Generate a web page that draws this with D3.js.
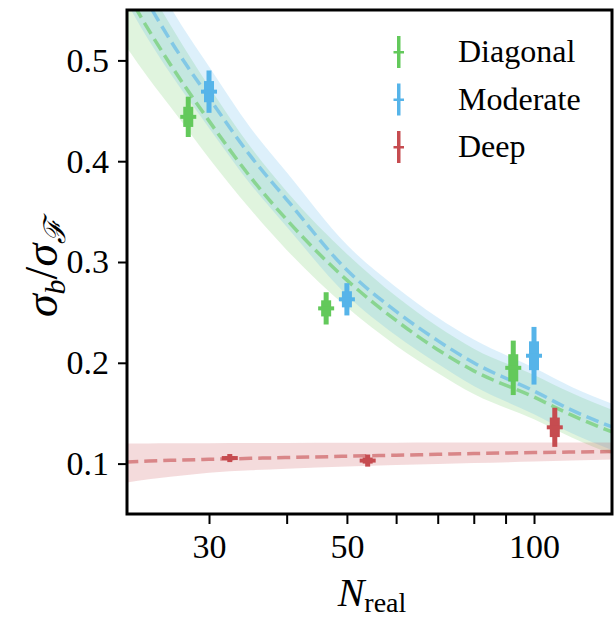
<!DOCTYPE html>
<html>
<head>
<meta charset="utf-8">
<script src="https://cdn.jsdelivr.net/npm/d3@7"></script>
<style>
  body { margin: 0; background: #fff; }
  text { font-family: "Liberation Serif", "DejaVu Serif", serif; }
</style>
</head>
<body>
<svg id="chart" width="615" height="618"></svg>
<script>
// --- data ---
var seriesNames = ['Diagonal', 'Moderate', 'Deep'];
var seriesColors = ['#63c95b', '#56b4e9', '#c64c50'];
var nReal = [30, 50, 100];
var dodge = [0.926, 1, 1.08];   // multiplicative shift on the log axis

var diagonalVals = [0.444, 0.254, 0.195];
var diagonalErr  = [0.0100, 0.0080, 0.0135];
var moderateVals = [0.469, 0.263, 0.207];
var moderateErr  = [0.0105, 0.0080, 0.0143];
var deepVals     = [0.1055, 0.1030, 0.1360];
var deepErr      = [0.0020, 0.0030, 0.0097];

// fitted curves and their bands
var fitN = [22, 24, 26, 30, 35, 40, 50, 60, 70, 80, 100, 115, 134];
var diagonalFit = [0.570, 0.530, 0.496, 0.440, 0.384, 0.342, 0.282, 0.242, 0.213, 0.192, 0.166, 0.148, 0.131];
var diagonalLo  = [0.515, 0.482, 0.454, 0.403, 0.352, 0.312, 0.255, 0.217, 0.190, 0.169, 0.144, 0.126, 0.109];
var diagonalHi  = [0.615, 0.572, 0.535, 0.474, 0.414, 0.370, 0.308, 0.266, 0.236, 0.214, 0.188, 0.170, 0.153];
var moderateFit = [0.600, 0.556, 0.520, 0.463, 0.405, 0.362, 0.292, 0.251, 0.222, 0.200, 0.172, 0.153, 0.136];
var moderateLo  = [0.560, 0.520, 0.487, 0.433, 0.377, 0.335, 0.267, 0.227, 0.199, 0.177, 0.149, 0.130, 0.113];
var moderateHi  = [0.640, 0.592, 0.553, 0.494, 0.433, 0.389, 0.317, 0.275, 0.245, 0.223, 0.195, 0.176, 0.159];
var deepFit     = [0.1015, 0.1025, 0.1032, 0.1042, 0.1052, 0.1060, 0.1073, 0.1083, 0.1092, 0.1100, 0.1110, 0.1115, 0.1120];
var deepLo      = [0.0810, 0.0845, 0.0870, 0.0910, 0.0935, 0.0950, 0.0970, 0.0985, 0.0995, 0.1005, 0.1020, 0.1030, 0.1040];
var deepHi      = [0.1200, 0.1200, 0.1201, 0.1202, 0.1204, 0.1205, 0.1207, 0.1208, 0.1209, 0.1210, 0.1210, 0.1210, 0.1210];

var yTicks = [0.1, 0.2, 0.3, 0.4, 0.5];
var xMajor = [30, 50, 100];
var xMinor = [40, 60, 70, 80, 90];

// --- layout ---
var svg = d3.select('#chart');
var m = { left: 127, right: 612, top: 10, bottom: 514 };

var x = d3.scaleLog().domain([22.14, 133.5]).range([m.left, m.right]);
var y = d3.scaleLinear().domain([0.05, 0.55]).range([m.bottom, m.top]);

var series = [
    { vals: diagonalVals, err: diagonalErr, fit: diagonalFit, lo: diagonalLo, hi: diagonalHi },
    { vals: moderateVals, err: moderateErr, fit: moderateFit, lo: moderateLo, hi: moderateHi },
    { vals: deepVals,     err: deepErr,     fit: deepFit,     lo: deepLo,     hi: deepHi }
];

svg.append('clipPath').attr('id', 'clip')
    .append('rect')
    .attr('x', m.left).attr('y', m.top)
    .attr('width', m.right - m.left).attr('height', m.bottom - m.top);

var plot = svg.append('g').attr('clip-path', 'url(#clip)');

var area = d3.area()
    .x(function(d) { return x(d.n); })
    .y0(function(d) { return y(d.lo); })
    .y1(function(d) { return y(d.hi); })
    .curve(d3.curveMonotoneX);

var line = d3.line()
    .x(function(d) { return x(d.n); })
    .y(function(d) { return y(d.v); })
    .curve(d3.curveMonotoneX);

// bands first, then dashed fits
series.forEach(function(s, i) {
    var pts = fitN.map(function(n, k) { return { n: n, lo: s.lo[k], hi: s.hi[k] }; });
    plot.append('path')
        .attr('d', area(pts))
        .style('fill', seriesColors[i])
        .style('fill-opacity', 0.2);
});
series.forEach(function(s, i) {
    var pts = fitN.map(function(n, k) { return { n: n, v: s.fit[k] }; });
    plot.append('path')
        .attr('d', line(pts))
        .style('fill', 'none')
        .style('stroke', seriesColors[i])
        .style('stroke-opacity', 0.6)
        .style('stroke-width', 3.5)
        .style('stroke-dasharray', '13,6');
});

// error bars: thin 2 sigma, thick 1 sigma, short horizontal mark at value
series.forEach(function(s, i) {
    var g = plot.append('g').style('fill', seriesColors[i]);
    nReal.forEach(function(n, k) {
        var cx = x(n * dodge[i]);
        var v = s.vals[k], e = s.err[k];
        g.append('rect')
            .attr('x', cx - 2.5).attr('width', 5)
            .attr('y', y(v + 2 * e)).attr('height', y(v - 2 * e) - y(v + 2 * e));
        g.append('rect')
            .attr('x', cx - 5).attr('width', 10)
            .attr('y', y(v + e)).attr('height', y(v - e) - y(v + e));
        g.append('rect')
            .attr('x', cx - 8).attr('width', 16)
            .attr('y', y(v) - 2).attr('height', 4);
    });
});

// frame
svg.append('rect')
    .attr('x', m.left).attr('y', m.top)
    .attr('width', m.right - m.left).attr('height', m.bottom - m.top)
    .style('fill', 'none')
    .style('stroke', '#000')
    .style('stroke-width', 3);

// axes
var yAxis = d3.axisLeft(y).tickValues(yTicks).tickSize(9).tickPadding(9)
    .tickFormat(d3.format('.1f'));
var gy = svg.append('g').attr('transform', 'translate(' + m.left + ',0)').call(yAxis);
gy.select('.domain').remove();
gy.selectAll('line').style('stroke-width', 2);
gy.selectAll('text').style('font-size', '34px').style('fill', '#000');

var xAxis = d3.axisBottom(x).tickValues(xMajor.concat(xMinor)).tickSize(10).tickPadding(10)
    .tickFormat(function(d) { return xMajor.indexOf(d) >= 0 ? d : ''; });
var gx = svg.append('g').attr('transform', 'translate(0,' + m.bottom + ')').call(xAxis);
gx.select('.domain').remove();
gx.selectAll('line').style('stroke-width', 2);
gx.selectAll('text').style('font-size', '34px').style('fill', '#000');

// axis titles
var xt = svg.append('text')
    .attr('x', 372).attr('y', 606)
    .attr('text-anchor', 'middle')
    .style('font-size', '40px');
xt.append('tspan').style('font-style', 'italic').text('N');
xt.append('tspan').attr('dy', 6).style('font-size', '28px').text('real');

var yt = svg.append('text')
    .attr('transform', 'translate(57,268) rotate(-90)')
    .attr('text-anchor', 'middle')
    .style('font-size', '46px');
yt.append('tspan').style('font-style', 'italic').text('σ');
yt.append('tspan').attr('dy', 8).style('font-size', '30px').style('font-style', 'italic').text('b');
yt.append('tspan').attr('dy', -8).text('/');
yt.append('tspan').style('font-style', 'italic').text('σ');
yt.append('tspan').attr('dy', 8).style('font-size', '30px').style('font-style', 'italic').text('ℱ');

// legend
var legend = svg.append('g');
seriesNames.forEach(function(name, i) {
    var ly = 52 + i * 47.5;
    legend.append('rect')
        .attr('x', 397).attr('y', ly - 16).attr('width', 3.5).attr('height', 32)
        .style('fill', seriesColors[i]);
    legend.append('rect')
        .attr('x', 393.5).attr('y', ly - 1).attr('width', 10.5).attr('height', 2.5)
        .style('fill', seriesColors[i]);
    legend.append('text')
        .attr('x', 458).attr('y', ly + 10)
        .style('font-size', '32px')
        .text(name);
});
</script>
</body>
</html>
